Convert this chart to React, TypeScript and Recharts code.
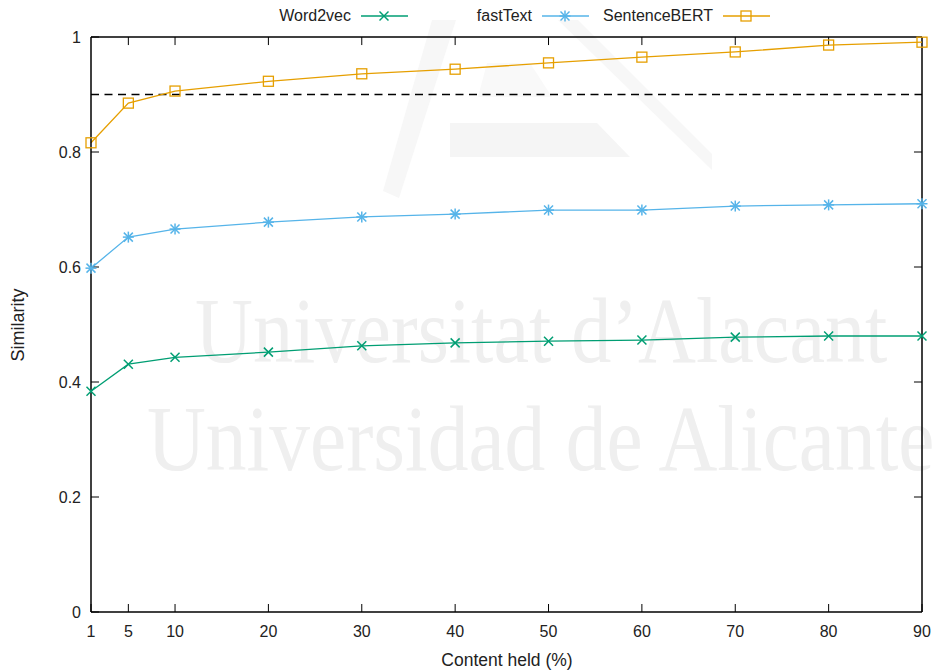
import React from 'react';
import { LineChart, Line, XAxis, YAxis, ReferenceLine } from 'recharts';

// Similarity vs. percentage of content kept
const contentHeld = [1, 5, 10, 20, 30, 40, 50, 60, 70, 80, 90];
const word2vecSim = [0.384, 0.431, 0.443, 0.452, 0.463, 0.468, 0.471, 0.473, 0.478, 0.48, 0.48];
const fastTextSim = [0.598, 0.652, 0.666, 0.678, 0.687, 0.692, 0.699, 0.699, 0.706, 0.708, 0.71];
const sentenceBertSim = [0.816, 0.885, 0.906, 0.923, 0.936, 0.944, 0.955, 0.965, 0.974, 0.986, 0.991];
const seriesNames = ['Word2vec', 'fastText', 'SentenceBERT'];
const xTicks = [1, 5, 10, 20, 30, 40, 50, 60, 70, 80, 90];
const yTicks = [0, 0.2, 0.4, 0.6, 0.8, 1];
const xDomain = [1, 90];
const yDomain = [0, 1];
const threshold = 0.9;

const W = 935;
const H = 671;
const FONT = '"Liberation Sans", Arial, Helvetica, sans-serif';

// inner tick length for the mirrored top/right ticks, in data units (~8px)
const xTickLen = 0.86;
const yTickLen = 0.014;

const series = [
  { key: 'word2vec', name: seriesNames[0], color: '#009e73', shape: 'cross' },
  { key: 'fastText', name: seriesNames[1], color: '#56b4e9', shape: 'star' },
  { key: 'sentenceBert', name: seriesNames[2], color: '#e69f00', shape: 'square' },
];

const data = contentHeld.map((x, i) => ({
  x,
  word2vec: word2vecSim[i],
  fastText: fastTextSim[i],
  sentenceBert: sentenceBertSim[i],
}));

function Marker({ shape, cx, cy, color }: { shape: string; cx: number; cy: number; color: string }) {
  const s = 4.5;
  if (shape === 'square') {
    return <rect x={cx - 5} y={cy - 5} width={10} height={10} fill="none" stroke={color} strokeWidth={1.3} />;
  }
  const cross = (
    <>
      <line x1={cx - s} y1={cy - s} x2={cx + s} y2={cy + s} stroke={color} strokeWidth={1.5} />
      <line x1={cx - s} y1={cy + s} x2={cx + s} y2={cy - s} stroke={color} strokeWidth={1.5} />
    </>
  );
  if (shape === 'star') {
    return (
      <g>
        {cross}
        <line x1={cx - 5.5} y1={cy} x2={cx + 5.5} y2={cy} stroke={color} strokeWidth={1.5} />
        <line x1={cx} y1={cy - 5.5} x2={cx} y2={cy + 5.5} stroke={color} strokeWidth={1.5} />
      </g>
    );
  }
  return <g>{cross}</g>;
}

const makeDot = (shape: string, color: string) => (props: any) => {
  const { cx, cy, index } = props;
  if (cx == null || cy == null) return <g key={`d-${index}`} />;
  return (
    <g key={`d-${index}`}>
      <Marker shape={shape} cx={cx} cy={cy} color={color} />
    </g>
  );
};

// faint university watermark sitting behind the plot
function Watermark() {
  const fill = '#efefef';
  const serif = '"Liberation Serif", "DejaVu Serif", serif';
  return (
    <svg width={W} height={H} style={{ position: 'absolute', left: 0, top: 0 }}>
      <polygon points="432,20 456,20 399,198 383,191" fill="#f7f7f7" />
      <polygon points="558,20 578,20 712,154 712,170" fill="#f7f7f7" />
      <polygon points="487,63 530,63 552,97 478,97" fill="#f9f9f9" />
      <polygon points="450,123 597,123 630,157 450,157" fill="#f5f5f5" />
      <text transform="translate(195,362) scale(0.853,1)" fontFamily={serif} fontSize={94} fill={fill}>
        Universitat d’Alacant
      </text>
      <text transform="translate(147,470) scale(0.867,1)" fontFamily={serif} fontSize={94} fill={fill}>
        Universidad de Alicante
      </text>
    </svg>
  );
}

function Overlay() {
  return (
    <svg width={W} height={H} style={{ position: 'absolute', left: 0, top: 0, pointerEvents: 'none' }}>
      {series.map((s, i) => {
        const end = 351 + i * 181;
        const mid = end + 33;
        return (
          <g key={s.key}>
            <text x={end} y={21} textAnchor="end" fontFamily={FONT} fontSize={16} fill="#222">
              {s.name}
            </text>
            <line x1={end + 10} y1={16} x2={end + 57} y2={16} stroke={s.color} strokeWidth={1.3} />
            <Marker shape={s.shape} cx={mid} cy={16} color={s.color} />
          </g>
        );
      })}
      <text x={507} y={666} textAnchor="middle" fontFamily={FONT} fontSize={17.5} fill="#222">
        Content held (%)
      </text>
      <text transform="translate(24,325) rotate(-90)" textAnchor="middle" fontFamily={FONT} fontSize={18} fill="#222">
        Similarity
      </text>
    </svg>
  );
}

export default function App() {
  const axisLine = { stroke: '#000', strokeWidth: 1.5 };
  const tickLine = { stroke: '#000', strokeWidth: 1 };
  const tickStyle = { fontFamily: FONT, fontSize: 16, fill: '#222' };
  const [x0, x1] = xDomain;
  const [, y1] = yDomain;
  return (
    <div style={{ position: 'absolute', left: 0, top: 0, width: W, height: H, background: '#fff' }}>
      <Watermark />
      <div style={{ position: 'absolute', left: 0, top: 0 }}>
        <LineChart width={W} height={H} data={data} margin={{ top: 37, right: 13, bottom: 29, left: 51 }}>
          <XAxis
            dataKey="x"
            type="number"
            domain={xDomain}
            ticks={xTicks}
            interval={0}
            height={30}
            tickSize={-8}
            tickMargin={22}
            axisLine={axisLine}
            tickLine={tickLine}
            tick={tickStyle}
          />
          <YAxis
            type="number"
            domain={yDomain}
            ticks={yTicks}
            interval={0}
            width={40}
            tickSize={-8}
            tickMargin={18}
            axisLine={axisLine}
            tickLine={tickLine}
            tick={tickStyle}
          />
          {/* closing frame: top and right borders with mirrored ticks */}
          <ReferenceLine y={y1} stroke="#000" strokeWidth={1.5} />
          <ReferenceLine x={x1} stroke="#000" strokeWidth={1.5} />
          {xTicks
            .filter((t) => t !== x0 && t !== x1)
            .map((t) => (
              <ReferenceLine
                key={`tx-${t}`}
                segment={[
                  { x: t, y: y1 },
                  { x: t, y: y1 - yTickLen },
                ]}
                stroke="#000"
                strokeWidth={1}
              />
            ))}
          {yTicks
            .filter((t) => t !== yDomain[0] && t !== y1)
            .map((t) => (
              <ReferenceLine
                key={`ty-${t}`}
                segment={[
                  { x: x1 - xTickLen, y: t },
                  { x: x1, y: t },
                ]}
                stroke="#000"
                strokeWidth={1}
              />
            ))}
          <ReferenceLine y={threshold} stroke="#000" strokeWidth={1.6} strokeDasharray="8 5.5" />
          {series.map((s) => (
            <Line
              key={s.key}
              dataKey={s.key}
              name={s.name}
              type="linear"
              stroke={s.color}
              strokeWidth={1.3}
              dot={makeDot(s.shape, s.color)}
              activeDot={false}
              isAnimationActive={false}
            />
          ))}
        </LineChart>
      </div>
      <Overlay />
    </div>
  );
}
